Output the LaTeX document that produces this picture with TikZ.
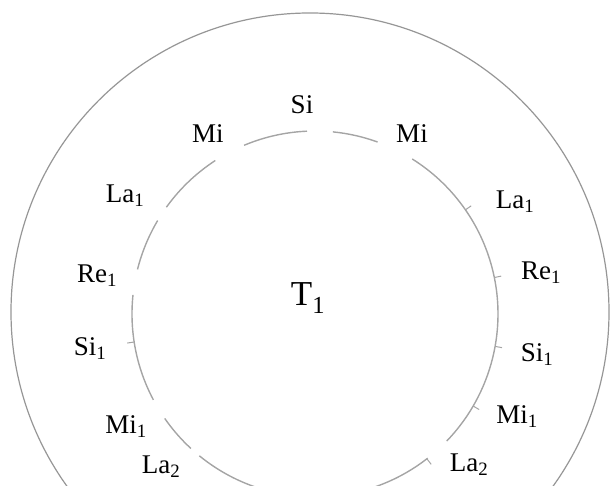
\documentclass[tikz,border=0pt]{standalone}
\usepackage{fontspec}
\setmainfont{Liberation Serif}
\usepackage{xcolor}
\usepackage{tikz}
\usetikzlibrary{positioning}
\definecolor{ringgray}{RGB}{150,150,150}
\definecolor{innergray}{RGB}{165,165,165}

\begin{document}
\begin{tikzpicture}[
  x=1pt, y=1pt,
  every node/.style={font=\fontsize{27}{32}\selectfont, inner sep=0pt},
  note/.style={anchor=center},
  ring/.style={draw=ringgray, line width=1.2pt},
  innerring/.style={draw=innergray, line width=1.4pt},
  tickmark/.style={draw=innergray, line width=1pt}
]
\useasboundingbox (-315,-172) rectangle (295,314);
\clip (-315,-172) rectangle (295,314);

% outer ring
\draw[ring] (-5,2) circle[radius=299pt];

% inner ring, drawn in pieces
\foreach \a/\b in {92.5/112.8, 123/144.3, 149.3/165.9, 174/208,
                   214.8/227.3, 230.8/308, 316/417.9, 70/84.4}
  \draw[innerring] (\a:183pt) arc[start angle=\a, end angle=\b, radius=183pt];

% small ticks
\foreach \a in {34.7, 11.5, -10.2, -30.2, -52.3, 188.8}
  \draw[tickmark] (\a:183pt) -- (\a:190pt);

% note names
\node[note] (si)    at (-13,209)  {Si};
\node[note] (miL)   at (-107,180) {Mi};
\node[note] (miR)   at (97,180)   {Mi};
\node[note] (laL)   at (-190,118) {La\textsubscript{1}};
\node[note] (laR)   at (200,112)  {La\textsubscript{1}};
\node[note] (reL)   at (-218,38)  {Re\textsubscript{1}};
\node[note] (reR)   at (226,41)   {Re\textsubscript{1}};
\node[note] (siL)   at (-225,-35) {Si\textsubscript{1}};
\node[note] (siR)   at (222,-41)  {Si\textsubscript{1}};
\node[note] (miLL)  at (-189,-113) {Mi\textsubscript{1}};
\node[note] (miRR)  at (202,-103) {Mi\textsubscript{1}};
\node[note] (laLL)  at (-154,-153) {La\textsubscript{2}};
\node[note] (laRR)  at (154,-151) {La\textsubscript{2}};

\node[note, font=\fontsize{35}{40}\selectfont] (tone) at (-7,16) {T\textsubscript{1}};
\end{tikzpicture}
\end{document}
